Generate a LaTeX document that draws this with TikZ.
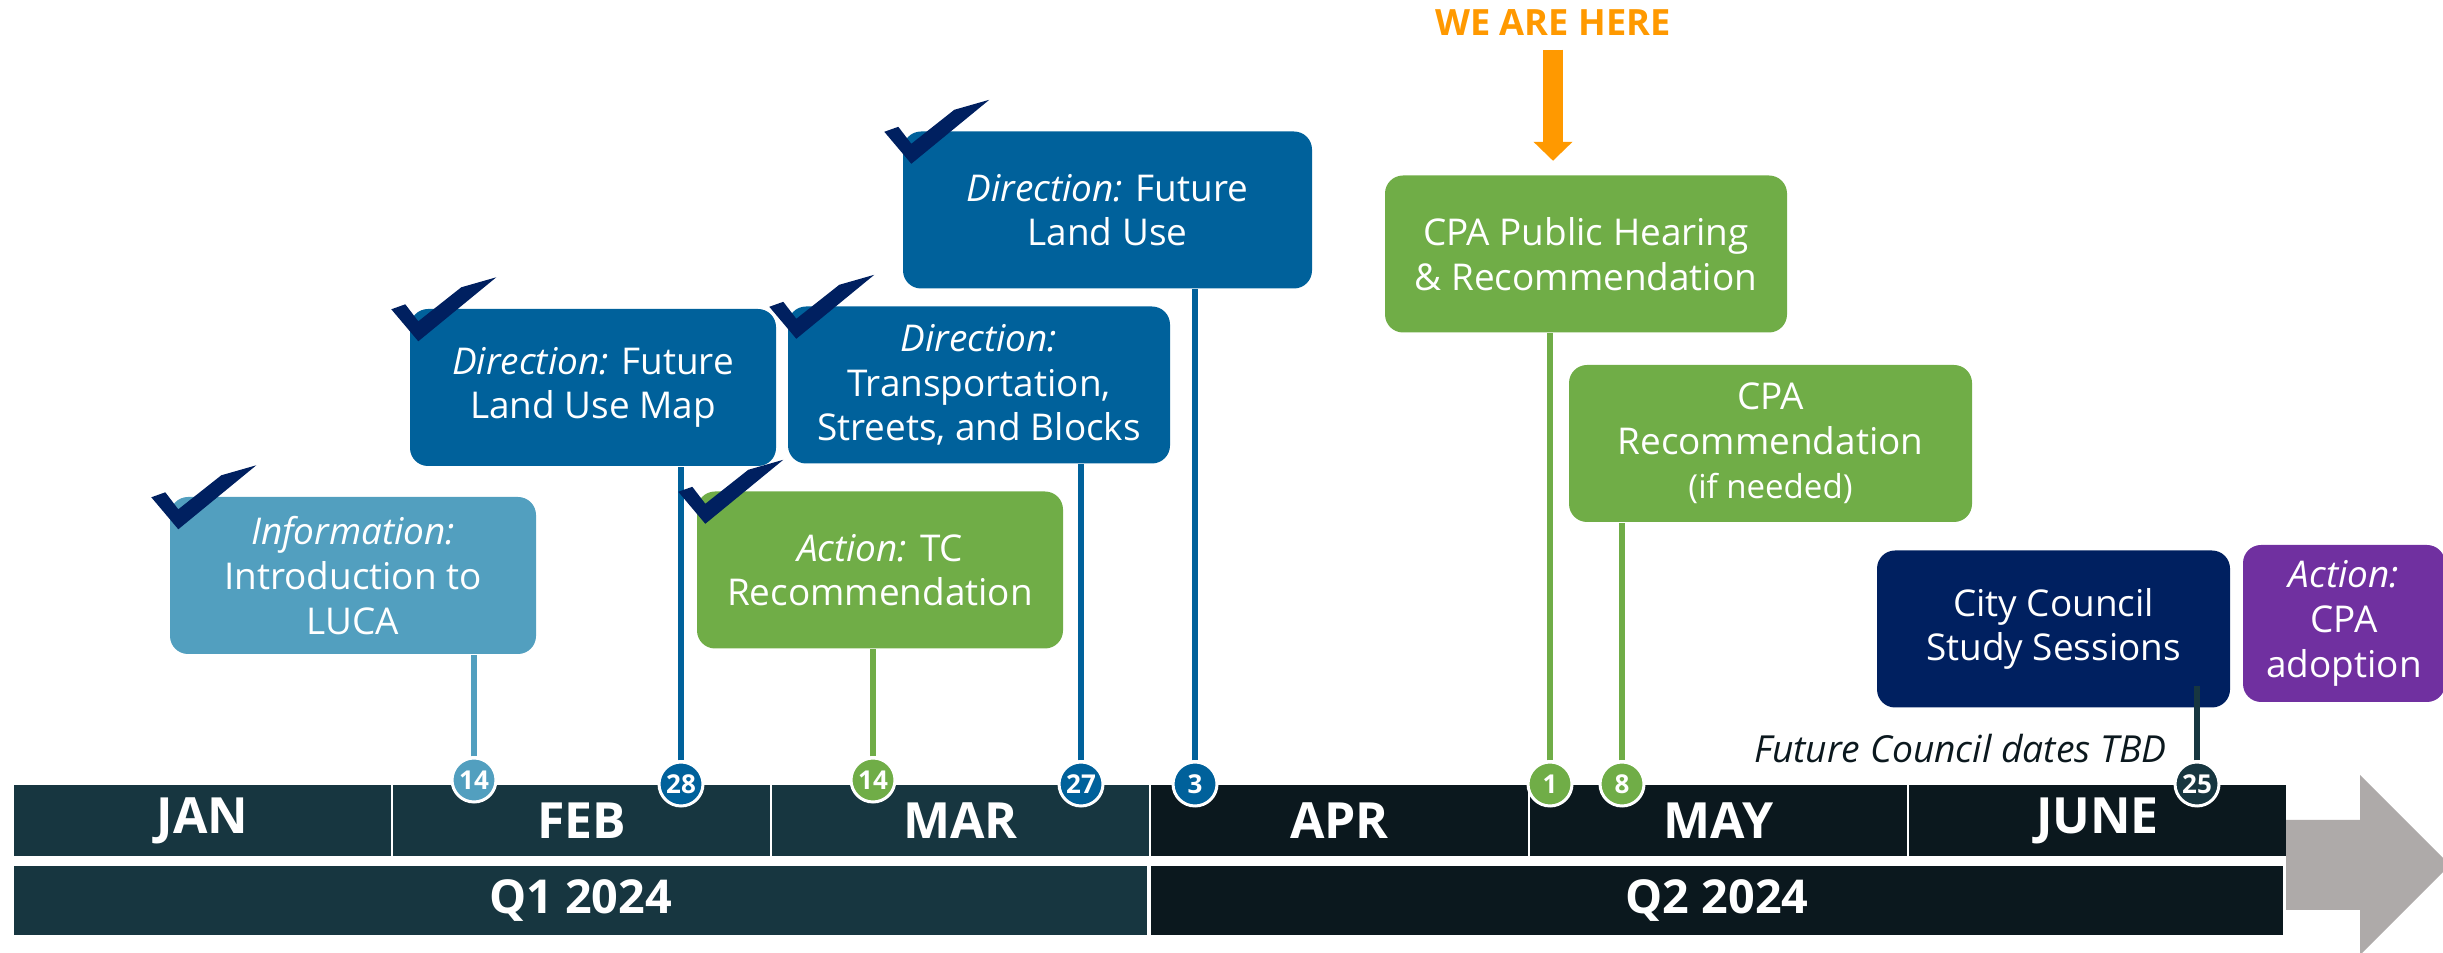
\documentclass[tikz,border=0pt]{standalone}
\usepackage{fontspec}
\setmainfont{Open Sans}
\usepackage{tikz}
\usetikzlibrary{arrows.meta}
\definecolor{infoblue}{RGB}{82,159,191}
\definecolor{dirblue}{RGB}{0,97,155}
\definecolor{actgreen}{RGB}{112,173,71}
\definecolor{navy}{RGB}{0,32,96}
\definecolor{adoptpurple}{RGB}{112,48,160}
\definecolor{hereorange}{RGB}{255,153,0}
\definecolor{qonefill}{RGB}{23,54,64}
\definecolor{qtwofill}{RGB}{11,24,30}
\definecolor{arrowgray}{RGB}{174,170,169}
\newcommand{\stage}[1]{\textit{#1:}}
\newcommand{\donetick}[1]{\fill[navy, shift={(#1.north west)}] (-18,1) -- (9,33) -- (87,-31) -- (52,-21) -- (9,13) -- (-4,-4) -- cycle;}

\begin{document}
\begin{tikzpicture}[x=0.1mm, y=-0.1mm,
	box/.style={rounded corners=1.8mm, minimum height=15.7mm, inner sep=0pt, align=center, text=white, font=\fontsize{10.5}{12.7}\selectfont},
	conn/.style={line width=0.55mm},
	day/.style={circle, draw=white, line width=0.3mm, minimum size=4.4mm, inner sep=0pt, text=white, font=\bfseries\fontsize{7.4}{8}\selectfont},
	month/.style={draw=white, line width=0.2mm, minimum width=37.9mm, minimum height=7.3mm, text=white, font=\bfseries\fontsize{14.2}{16}\selectfont},
	quarter/.style={draw=white, line width=0.2mm, minimum height=7.1mm, text=white, font=\bfseries\fontsize{13.3}{15}\selectfont}]
	\useasboundingbox (0,0) rectangle (2443,953);

	% calendar bands
	\foreach \m/\c [count=\i from 0] in {JAN/qonefill, FEB/qonefill, MAR/qonefill, APR/qtwofill, MAY/qtwofill, JUNE/qtwofill}
		\node[month, fill=\c] (m\i) at ({202.5+379*\i},820.5) {\m};
	\node[quarter, fill=qonefill, minimum width=113.5mm] (q1) at (580.5,900.5) {Q1 2024};
	\node[quarter, fill=qtwofill, minimum width=113.4mm] (q2) at (1717,900.5) {Q2 2024};
	\fill[arrowgray] (2286,820) -- (2360,820) -- (2360,775) -- (2450,865) -- (2360,955) -- (2360,910) -- (2286,910) -- cycle;

	% meetings
	\node[box, fill=infoblue, minimum width=36.6mm] (info) at (353,575.5) {\stage{Information}\\Introduction to\\LUCA};
	\node[box, fill=dirblue, minimum width=36.6mm] (flumap) at (593,387.5) {\stage{Direction} Future\\Land Use Map};
	\node[box, fill=dirblue, minimum width=38.2mm] (streets) at (979,385) {\stage{Direction}\\Transportation,\\Streets, and Blocks};
	\node[box, fill=actgreen, minimum width=36.6mm] (tc) at (880,570) {\stage{Action} TC\\Recommendation};
	\node[box, fill=dirblue, minimum width=40.9mm] (flu) at (1107.5,210) {\stage{Direction} Future\\Land Use};
	\node[box, fill=actgreen, minimum width=40.2mm] (hearing) at (1586,254) {CPA Public Hearing\\\& Recommendation};
	\node[box, fill=actgreen, minimum width=40.3mm] (cparec) at (1770.5,443.5) {CPA\\Recommendation\\{\fontsize{9.4}{11}\selectfont(if needed)}};
	\node[box, fill=navy, minimum width=35.3mm] (council) at (2053.5,629) {City Council\\Study Sessions};
	\node[box, fill=adoptpurple, minimum width=20.2mm] (adopt) at (2344,623.5) {\stage{Action}\\CPA\\adoption};

	% dates
	\node[day, fill=infoblue] (d1) at (474,780) {14};
	\node[day, fill=dirblue] (d2) at (681,784) {28};
	\node[day, fill=actgreen] (d3) at (873,780) {14};
	\node[day, fill=dirblue] (d4) at (1081,784) {27};
	\node[day, fill=dirblue] (d5) at (1195,784) {3};
	\node[day, fill=actgreen] (d6) at (1550,784) {1};
	\node[day, fill=actgreen] (d7) at (1622,784) {8};
	\node[day, fill=qonefill] (d8) at (2197,784) {25};

	\path[conn, infoblue] (d1.north) edge (d1 |- info.south);
	\path[conn, dirblue] (d2.north) edge (d2 |- flumap.south);
	\path[conn, actgreen] (d3.north) edge (d3 |- tc.south);
	\path[conn, dirblue] (d4.north) edge (d4 |- streets.south);
	\path[conn, dirblue] (d5.north) edge (d5 |- flu.south);
	\path[conn, actgreen] (d6.north) edge (d6 |- hearing.south);
	\path[conn, actgreen] (d7.north) edge (d7 |- cparec.south);
	\path (council.south -| d8) ++(0,-22) coordinate (cctop);
	\path[conn, qonefill] (d8.north) edge (cctop);

	\node[anchor=base east, inner sep=0pt, text=qtwofill, font=\itshape\fontsize{10.6}{12}\selectfont] (tbd) at (2167,763) {Future Council dates TBD};

	\node[anchor=base, inner sep=0pt, text=hereorange, font=\bfseries\fontsize{10.3}{12}\selectfont] (here) at (1553,36) {WE ARE HERE};
	\draw[hereorange, line width=2mm, -{Triangle[width=3.8mm, length=1.9mm]}, shorten <=1.3mm, shorten >=1.4mm] (here.south) -- (here.south |- hearing.north);

	\donetick{info}
	\donetick{flumap}
	\donetick{streets}
	\donetick{tc}
	\donetick{flu}
\end{tikzpicture}
\end{document}
